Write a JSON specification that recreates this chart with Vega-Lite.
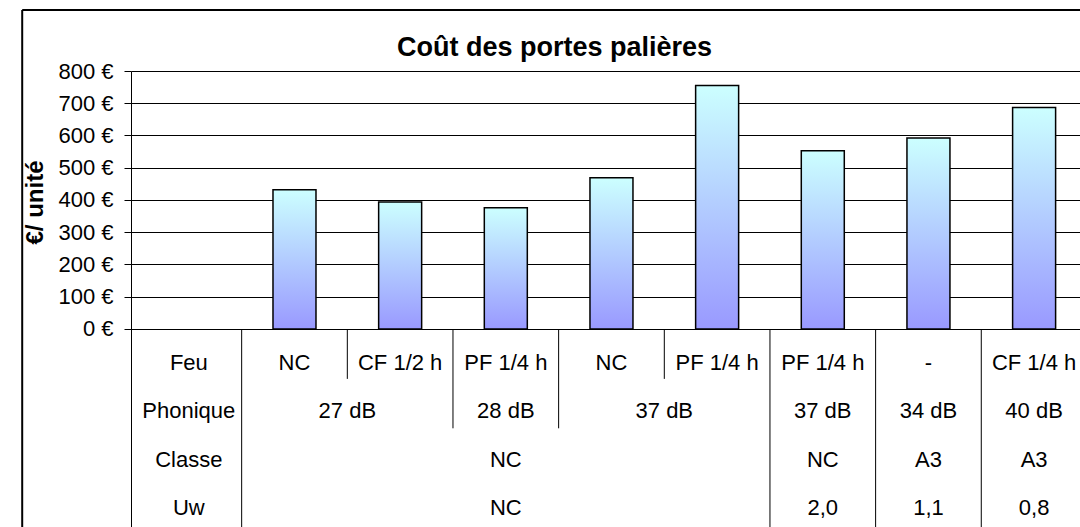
{
  "$schema": "https://vega.github.io/schema/vega-lite/v6.json",
  "width": 949,
  "height": 456,
  "autosize": {"type": "none"},
  "padding": {"left": 131, "top": 71, "right": 0, "bottom": 0},
  "background": "white",
  "config": {"view": {"stroke": null}, "font": "Liberation Sans"},
  "title": {"text": "Coût des portes palières", "fontSize": 27, "fontWeight": "bold", "font": "Liberation Sans", "color": "black", "anchor": "middle", "frame": "bounds", "baseline": "bottom", "offset": -80},
  "datasets": {
    "costs": [
      {"cat": 1, "cost": 432},
      {"cat": 2, "cost": 394},
      {"cat": 3, "cost": 376},
      {"cat": 4, "cost": 469},
      {"cat": 5, "cost": 755},
      {"cat": 6, "cost": 553},
      {"cat": 7, "cost": 592},
      {"cat": 8, "cost": 687}
    ],
    "labels": [
      {"row": 1, "mid": 0, "label": "Feu"},
      {"row": 1, "mid": 1, "label": "NC"},
      {"row": 1, "mid": 2, "label": "CF 1/2 h"},
      {"row": 1, "mid": 3, "label": "PF 1/4 h"},
      {"row": 1, "mid": 4, "label": "NC"},
      {"row": 1, "mid": 5, "label": "PF 1/4 h"},
      {"row": 1, "mid": 6, "label": "PF 1/4 h"},
      {"row": 1, "mid": 7, "label": "-"},
      {"row": 1, "mid": 8, "label": "CF 1/4 h"},
      {"row": 2, "mid": 0, "label": "Phonique"},
      {"row": 2, "mid": 1.5, "label": "27 dB"},
      {"row": 2, "mid": 3, "label": "28 dB"},
      {"row": 2, "mid": 4.5, "label": "37 dB"},
      {"row": 2, "mid": 6, "label": "37 dB"},
      {"row": 2, "mid": 7, "label": "34 dB"},
      {"row": 2, "mid": 8, "label": "40 dB"},
      {"row": 3, "mid": 0, "label": "Classe"},
      {"row": 3, "mid": 3, "label": "NC"},
      {"row": 3, "mid": 6, "label": "NC"},
      {"row": 3, "mid": 7, "label": "A3"},
      {"row": 3, "mid": 8, "label": "A3"},
      {"row": 4, "mid": 0, "label": "Uw"},
      {"row": 4, "mid": 3, "label": "NC"},
      {"row": 4, "mid": 6, "label": "2,0"},
      {"row": 4, "mid": 7, "label": "1,1"},
      {"row": 4, "mid": 8, "label": "0,8"}
    ],
    "ticks": [
      {"at": 0.5, "depth": 4},
      {"at": 1.5, "depth": 1},
      {"at": 2.5, "depth": 2},
      {"at": 3.5, "depth": 2},
      {"at": 4.5, "depth": 1},
      {"at": 5.5, "depth": 4},
      {"at": 6.5, "depth": 4},
      {"at": 7.5, "depth": 4}
    ]
  },
  "layer": [
    {
      "data": {"name": "costs"},
      "mark": {
        "type": "bar",
        "width": 43,
        "stroke": "black",
        "strokeWidth": 1.5,
        "fill": {"gradient": "linear", "x1": 0, "y1": 0, "x2": 0, "y2": 1, "stops": [{"offset": 0, "color": "#CCFFFF"}, {"offset": 1, "color": "#9999FF"}]}
      },
      "encoding": {
        "x": {"field": "cat", "type": "quantitative", "scale": {"domain": [-0.5, 8.387], "nice": false, "zero": false}, "axis": null},
        "y": {
          "field": "cost", "type": "quantitative",
          "scale": {"domain": [-614, 800], "nice": false, "zero": false},
          "axis": {
            "values": [0, 100, 200, 300, 400, 500, 600, 700, 800],
            "labelExpr": "datum.value + ' €'",
            "labelFont": "Liberation Sans", "labelFontSize": 22, "labelColor": "black", "labelPadding": 11, "labelFlush": false,
            "tickColor": "black", "tickSize": 7, "tickWidth": 1,
            "domainColor": "black", "domainWidth": 1,
            "grid": true, "gridColor": "black", "gridOpacity": 1, "gridWidth": 1,
            "title": "€/ unité", "titleFont": "Liberation Sans", "titleFontSize": 24, "titleFontWeight": "bold", "titleColor": "black",
            "titleAngle": -90, "titleX": -96, "titleY": 131, "titleBaseline": "middle", "titleAlign": "center"
          }
        }
      }
    },
    {
      "data": {"name": "ticks"},
      "mark": {"type": "rule", "stroke": "black", "strokeWidth": 1},
      "encoding": {
        "x": {"field": "at", "type": "quantitative", "scale": {"domain": [-0.5, 8.387], "nice": false, "zero": false}},
        "y": {"field": "depth", "type": "quantitative", "scale": {"domain": [-5.233, 3.998], "reverse": true, "nice": false, "zero": false}, "axis": null},
        "y2": {"datum": 0}
      }
    },
    {
      "data": {"name": "labels"},
      "mark": {"type": "text", "fontSize": 22, "font": "Liberation Sans", "color": "black", "baseline": "middle", "align": "center"},
      "encoding": {
        "x": {"field": "mid", "type": "quantitative", "scale": {"domain": [-0.5, 8.387], "nice": false, "zero": false}},
        "y": {"field": "row", "type": "quantitative", "scale": {"domain": [-5.033, 4.388], "reverse": true, "nice": false, "zero": false}, "axis": null},
        "text": {"field": "label", "type": "nominal"}
      }
    },
    {
      "data": {"values": [{}]},
      "mark": {"type": "rule", "stroke": "black", "strokeWidth": 2},
      "encoding": {
        "x": {"datum": -1.577, "type": "quantitative", "scale": {"domain": [-0.5, 8.387], "nice": false, "zero": false}},
        "y": {"datum": 989, "type": "quantitative", "scale": {"domain": [-614, 800], "nice": false, "zero": false}, "axis": null},
        "y2": {"datum": -700}
      }
    },
    {
      "data": {"values": [{}]},
      "mark": {"type": "rule", "stroke": "black", "strokeWidth": 2},
      "encoding": {
        "x": {"datum": -1.577, "type": "quantitative", "scale": {"domain": [-0.5, 8.387], "nice": false, "zero": false}},
        "x2": {"datum": 8.5},
        "y": {"datum": 989, "type": "quantitative", "scale": {"domain": [-614, 800], "nice": false, "zero": false}, "axis": null}
      }
    }
  ],
  "resolve": {"scale": {"y": "independent"}}
}
